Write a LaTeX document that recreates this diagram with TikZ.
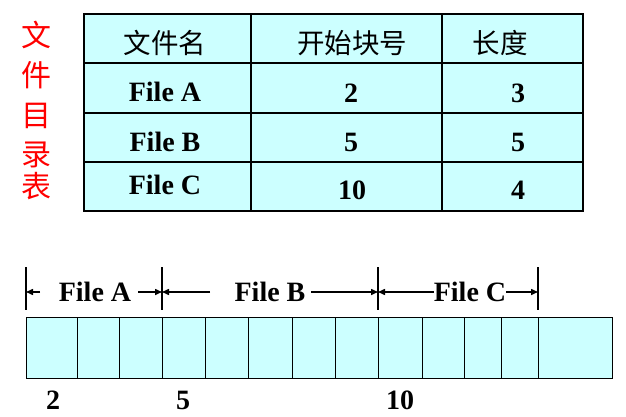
\documentclass[tikz,border=0pt]{standalone}
\usepackage{fontspec}
\setmainfont{Liberation Serif}
\newfontfamily\cjk{Noto Sans CJK SC}
\usetikzlibrary{arrows.meta}
\definecolor{cellcyan}{HTML}{CCFFFF}
\begin{document}
\begin{tikzpicture}[x=1pt,y=-1pt,
  hdr/.style={font=\cjk\fontsize{27.5}{27.5}\selectfont, inner sep=0pt},
  val/.style={font=\bfseries\fontsize{28}{28}\selectfont, inner sep=0pt},
  side/.style={font=\cjk\fontsize{30}{30}\selectfont, text=red, inner sep=0pt},
  tline/.style={line width=1.5pt},
  blockcell/.style={draw, fill=cellcyan, line width=1pt},
  tickbar/.style={line width=2.2pt},
  dimarrow/.style={line width=1.5pt, -{Triangle[length=7pt,width=6pt]}}]
\useasboundingbox (0,0) rectangle (626,417);
% table
\fill[cellcyan] (84,14) rectangle (583,211);
\draw[tline] (84,14) rectangle (583,211);
\foreach \xx in {251,442} \draw[tline] (\xx,14) -- (\xx,211);
\foreach \yy in {63,113,162} \draw[tline] (84,\yy) -- (583,\yy);
\node[hdr] (h1) at (165,43) {文件名};
\node[hdr] (h2) at (352,43) {开始块号};
\node[hdr] (h3) at (500,43) {长度};
\node[val] (fa) at (165,92) {File A};
\node[val] (sa) at (351,93) {2};
\node[val] (la) at (518,93) {3};
\node[val] (fb) at (165,142) {File B};
\node[val] (sb) at (351,142) {5};
\node[val] (lb) at (518,142) {5};
\node[val] (fc) at (165,185) {File C};
\node[val] (sc) at (352,190) {10};
\node[val] (lc) at (518,190) {4};
% side title
\node[side] (s1) at (36,35) {文};
\node[side] (s2) at (36,75) {件};
\node[side] (s3) at (36,116) {目};
\node[side] (s4) at (36,155) {录};
\node[side] (s5) at (36,186) {表};
% blocks
\foreach \a/\b in {26/77,77/119,119/162,162/205,205/248,248/292,292/335,335/378,378/422,422/464,464/501,501/538,538/612}
  \draw[blockcell] (\a,317) rectangle (\b,378);
\node[val] (n2) at (53,400) {2};
\node[val] (n5) at (183,400) {5};
\node[val] (n10) at (400,400) {10};
% ticks
\foreach \t/\xx in {tA/26,tB/162,tC/378,tD/538} {
  \coordinate (\t top) at (\xx,267);
  \coordinate (\t bot) at (\xx,310);
  \coordinate (\t) at (\xx,292);
  \draw[tickbar] (\t top) -- (\t bot);
}
\node[val] (ba) at (95,292) {File A};
\node[val] (bb) at (270,292) {File B};
\node[val] (bc) at (470,292) {File C};
\coordinate (aL) at (40,292);
\coordinate (aR) at (138,292);
\coordinate (bL) at (210,292);
\coordinate (bR) at (311,292);
\draw[dimarrow] (aL) -- (tA);
\draw[dimarrow] (aR) -- (tB);
\draw[dimarrow] (bL) -- (tB);
\draw[dimarrow] (bR) -- (tC);
\draw[dimarrow] (bc.west) -- (tC);
\draw[dimarrow] (bc.east) -- (tD);
\end{tikzpicture}
\end{document}
